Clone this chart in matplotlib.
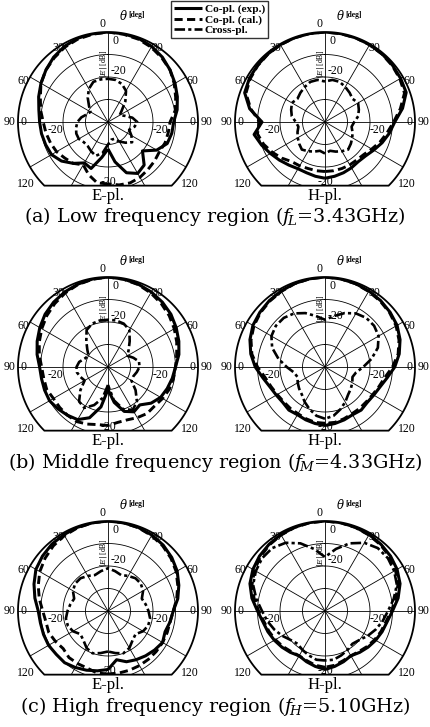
import numpy as np
import matplotlib
matplotlib.use("Agg")
import matplotlib.pyplot as plt
from matplotlib.patches import Polygon

plt.rcParams['mathtext.fontset'] = 'dejavuserif'

# ---------------- data (dB, angle in deg, clockwise from top) ----------------
ANG = list(range(-180, 181, 10))

# (a) low, E-plane
e_low_exp = [-28, -24, -18, -19, -16, -13, -11, -10.5, -10, -9.6, -8.8, -7.2, -5.6, -4, -2.4, -1.2, -0.4, -0.2, 0,
             -0.2, -0.4, -1.2, -2.4, -4, -5.6, -7.2, -8.8, -10.8, -11.2, -12, -15, -20, -15, -13.6, -16, -22, -28]
e_low_cal = [-12.5, -12.5, -15, -18, -16, -15, -13.6, -12.8, -12, -11.2, -9.6, -8, -5.6, -4, -2.8, -1.6, -0.8, -0.4, 0,
             -0.4, -0.8, -1.6, -2.8, -4, -6, -8, -9.6, -12.4, -12.8, -13, -13.6, -13, -12.4, -11.6, -11.2, -11.6, -12.5]
e_low_cross = [-30, -26, -24, -25, -26, -26, -25, -25, -25.6, -26.4, -28, -30, -31, -29, -26, -23, -21, -20.8, -20.8,
               -21, -22, -24, -28, -32, -34, -32, -29, -27, -28, -30, -28, -26, -28, -30, -32, -32, -30]

# (a) low, H-plane
h_low_exp = [-15, -15.5, -16, -16, -15, -13.6, -12, -10, -8, -12, -6, -2, -1.2, -0.8, -0.5, -0.3, -0.2, -0.1, 0,
             -0.1, -0.2, -0.3, -0.5, -0.8, -1.2, -1.6, -5, -9, -11, -13, -15, -16.5, -17, -16.5, -16, -15.5, -15]
h_low_cal = [-18, -18, -18, -17.5, -17, -15, -13, -11, -9.5, -11, -6.5, -2.6, -1.6, -1, -0.6, -0.4, -0.2, -0.1, 0,
             -0.1, -0.2, -0.4, -0.6, -1, -1.6, -2.4, -6, -9.5, -12, -14, -16, -17.5, -18, -18, -18, -18, -18]
h_low_cross = [-26, -27, -26, -25, -24, -25, -26, -27, -28, -27, -25, -24, -23, -24, -23, -22, -21, -21, -22,
               -21, -21, -22, -23, -24, -23, -24, -25, -27, -28, -27, -26, -25, -24, -25, -26, -27, -26]

# (b) middle, E-plane
e_mid_exp = [-30, -22, -16, -13, -12, -11, -10, -10, -10, -9.6, -8, -6.5, -5, -3.5, -2.4, -1.5, -0.8, -0.3, 0,
             -0.3, -0.8, -1.5, -2.4, -3.5, -5, -6.5, -8, -10, -11, -12, -13, -15, -18, -17, -19, -24, -30]
e_mid_cal = [-14, -14, -13, -12, -12, -12, -12, -11, -11, -10.5, -9, -7.5, -6, -4.5, -3.2, -2, -1, -0.4, 0,
             -0.4, -1, -2, -3.2, -4.5, -6, -7.5, -9, -10, -10.5, -11, -12, -13, -13, -14, -15, -15, -14]
e_mid_cross = [-32, -26, -22, -19, -20, -24, -28, -27, -26, -26, -27, -29, -30, -28, -25, -21, -19.5, -19, -19,
               -19, -19.5, -21, -25, -28, -30, -28, -26, -26, -27, -28, -28, -24, -20, -18, -20, -25, -32]

# (b) middle, H-plane
h_mid_exp = [-14, -14.5, -15, -15.5, -15, -15.5, -15, -14, -12, -9, -6.5, -4.5, -3, -2.2, -1.5, -1, -0.5, -0.2, 0,
             -0.2, -0.5, -1, -1.5, -2.2, -3, -4.5, -6.5, -9, -12, -14, -15, -15.5, -15, -15.5, -15, -14.5, -14]
h_mid_cal = [-15, -15, -15.5, -16, -16, -16, -15.5, -14.5, -13, -10, -7, -5, -3.5, -2.5, -1.8, -1.2, -0.6, -0.2, 0,
             -0.2, -0.6, -1.2, -1.8, -2.5, -3.5, -5, -7, -10, -13, -14.5, -15.5, -16, -16, -16, -15.5, -15, -15]
h_mid_cross = [-17, -18, -20, -22, -24, -25, -26, -27, -26, -23, -19, -15, -12.5, -11.5, -11.5, -12.5, -14.5, -17, -19,
               -17, -14.5, -12.5, -11.5, -11.5, -12.5, -15, -19, -23, -26, -27, -26, -25, -24, -22, -20, -18, -17]

# (c) high, E-plane
e_high_exp = [-14, -13, -12, -11, -10, -10, -9.5, -9.5, -9.5, -9, -7, -5, -3, -2, -1.2, -0.8, -0.4, -0.2, 0,
              -0.2, -0.5, -1, -1.8, -3, -4.5, -6.5, -8.5, -11, -12, -13, -12, -13, -14, -15, -16, -18, -14]
e_high_cal = [-12, -12, -13, -13, -13, -14, -13, -12, -12, -11, -9, -7, -5, -3.5, -2.2, -1.3, -0.6, -0.2, 0,
              -0.2, -0.6, -1.3, -2.2, -3.5, -5, -7, -9, -11, -12, -12, -12, -12, -12, -12, -12, -12, -12]
e_high_cross = [-22, -21, -20, -21, -23, -24, -22, -21, -21, -22, -23, -24, -22, -21, -21, -22, -23, -22, -21,
                -22, -23, -22, -21, -21, -22, -24, -23, -22, -21, -21, -22, -24, -23, -21, -20, -21, -22]

# (c) high, H-plane
h_high_exp = [-14, -15, -16, -17, -16, -15, -14, -13, -12, -10, -7, -4.5, -3, -2, -1.3, -0.8, -0.4, -0.1, 0,
              -0.1, -0.4, -0.8, -1.3, -2, -3, -4.5, -7, -10, -12, -13, -14, -15, -16, -17, -16, -15, -14]
h_high_cal = [-15, -15.5, -16.5, -17, -16.5, -15.5, -14.5, -13.5, -12.5, -10.5, -8, -5.5, -3.8, -2.5, -1.6, -1, -0.5, -0.2, 0,
              -0.2, -0.5, -1, -1.6, -2.5, -3.8, -5.5, -8, -10.5, -12.5, -13.5, -14.5, -15.5, -16.5, -17, -16.5, -15.5, -15]
h_high_cross = [-18, -18, -19, -20, -21, -20, -18, -16, -14, -12, -9, -6, -4.5, -3.5, -3.5, -5, -8, -12, -16,
                -12, -8, -5, -3.5, -3.5, -4.5, -6, -9, -12, -14, -16, -18, -20, -21, -20, -19, -18, -18]

PLANE_LABELS = ['E-pl.', 'H-pl.']
TITLES = [r'(a) Low frequency region ($f_{\!L}$=3.43GHz)',
          r'(b) Middle frequency region ($f_{\!M}$=4.33GHz)',
          r'(c) High frequency region ($f_{\!H}$=5.10GHz)']
LEGEND_LABELS = ['Co-pl. (exp.)', 'Co-pl. (cal.)', 'Cross-pl.']

PANELS = [
    [(e_low_exp, e_low_cal, e_low_cross), (h_low_exp, h_low_cal, h_low_cross)],
    [(e_mid_exp, e_mid_cal, e_mid_cross), (h_mid_exp, h_mid_cal, h_mid_cross)],
    [(e_high_exp, e_high_cal, e_high_cross), (h_high_exp, h_high_cal, h_high_cross)],
]

# ---------------- layout ----------------
W, H = 430, 727
fig = plt.figure(figsize=(W / 100, H / 100), dpi=100)
fig.patch.set_facecolor('white')

CX = [108, 325]
CY = [122, 367, 611]
R = 90
CUT = 135            # frame arc ends at +-CUT deg, closed by a chord
RMIN, RMAX = -40, 0

STY = [dict(ls='-', lw=2.2), dict(ls=(0, (2.8, 1.5)), lw=2.1), dict(ls=(0, (4.0, 1.2, 1.2, 1.2)), lw=1.9)]
SERIF = 'Liberation Serif'
TITLE_FONT = 'DejaVu Serif'

handles = []
for ri in range(3):
    for ci in range(2):
        cx, cy = CX[ci], CY[ri]
        rect = [(cx - R) / W, 1 - (cy + R) / H, 2 * R / W, 2 * R / H]
        ax = fig.add_axes(rect, projection='polar')
        ax.set_theta_zero_location('N')
        ax.set_theta_direction(-1)
        ax.set_ylim(RMIN, RMAX)
        ax.axis('off')

        # frame: truncated circle
        t = np.radians(np.linspace(-CUT, CUT, 200))
        pts = np.column_stack([0.5 + 0.5 * np.sin(t), 0.5 + 0.5 * np.cos(t)])
        frame = Polygon(pts, closed=True, fill=False, ec='black', lw=1.3,
                        transform=ax.transAxes, clip_on=False)
        ax.add_patch(frame)

        # grid
        full = np.radians(np.linspace(0, 360, 361))
        for lev in (-10, -20, -30):
            ln, = ax.plot(full, np.full_like(full, lev), color='black', lw=0.6)
            ln.set_clip_path(frame)
        for a in range(0, 360, 30):
            ln, = ax.plot([np.radians(a)] * 2, [RMIN, RMAX], color='black', lw=0.6)
            ln.set_clip_path(frame)

        # data
        th = np.radians(ANG)
        lines = []
        for vals, st in zip(PANELS[ri][ci], STY):
            ln, = ax.plot(th, vals, color='black', solid_capstyle='butt', **st)
            ln.set_clip_path(frame)
            lines.append(ln)
        if not handles:
            handles = lines

        # angle labels
        fs = 8.5
        def T(a, r, s, **kw):
            ax.text(np.radians(a), r, s, fontsize=fs, family=SERIF, clip_on=False, **kw)
        T(-1.5, 0.8, '0', ha='right', va='bottom')
        T(-34, -0.5, '30', ha='center', va='center')
        T(34, -0.5, '30', ha='center', va='center')
        T(-64, 2.0, '60', ha='center', va='center')
        T(64, 2.0, '60', ha='center', va='center')
        T(-90, 1.0, '90', ha='right', va='center')
        T(90, 1.0, '90', ha='left', va='center')
        T(-127, 5.5, '120', ha='center', va='center')
        T(127, 5.5, '120', ha='center', va='center')
        # dB labels
        T(3, -1.2, '0', ha='left', va='top')
        T(-86, -1.0, '0', ha='left', va='top')
        T(86, -1.0, '0', ha='right', va='top')
        T(-92, -20, '-20', ha='right', va='top')
        T(92, -20, '-20', ha='left', va='top')
        T(3, -20, '-20', ha='left', va='bottom')
        T(180, -13.5, '-20', ha='center', va='center')
        ax.text(np.radians(-4), -14, r'$|E|$ [dB]', fontsize=5.5, family=SERIF, rotation=90,
                ha='center', va='center', clip_on=False)
        # theta label
        ax.text(np.radians(6), 7.5, r'$\theta$', fontsize=8.5, ha='left', va='center', clip_on=False)
        ax.text(np.radians(11), 8.3, '[deg]', fontsize=5.5, family=SERIF, weight='bold',
                ha='left', va='center', clip_on=False)

        fig.text(cx / W, 1 - (cy + 74) / H, PLANE_LABELS[ci], ha='center', va='center',
                 fontsize=12, family=SERIF)
    fig.text(0.5, 1 - (CY[ri] + 95) / H, TITLES[ri], ha='center', va='center',
             fontsize=13.8, family=TITLE_FONT)

leg = fig.legend(handles, LEGEND_LABELS, loc='upper left',
                 bbox_to_anchor=(171 / W, 1 - 1 / H), frameon=True, fancybox=False,
                 edgecolor='black', prop=dict(family=SERIF, size=8.2, weight='bold'),
                 handlelength=2.5, handletextpad=0.2, borderpad=0.25, labelspacing=0.05,
                 borderaxespad=0)
leg.get_frame().set_linewidth(1.0)

fig.savefig('out.png', dpi=100, facecolor='white')
